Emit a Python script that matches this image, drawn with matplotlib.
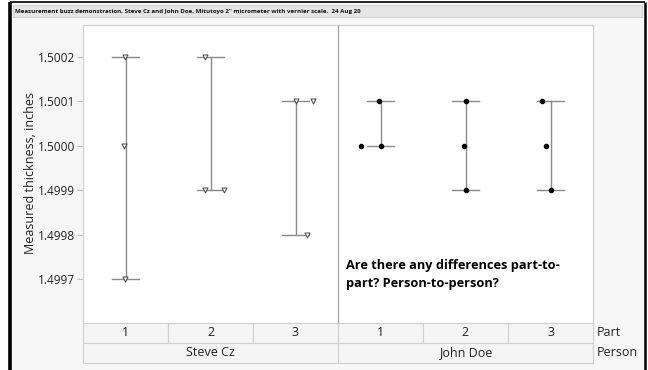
import matplotlib
matplotlib.use("Agg")
import matplotlib.pyplot as plt
from matplotlib.patches import Rectangle
from matplotlib.transforms import blended_transform_factory
import numpy as np

plt.rcParams['font.family'] = ['Open Sans', 'DejaVu Sans']

# ---------------- data ----------------
persons = ["Steve Cz", "John Doe"]
parts = ["1", "2", "3"]
# three repeat readings per (person, part), inches
steve_values = [
    [1.5002, 1.5000, 1.4997],
    [1.5002, 1.4999, 1.4999],
    [1.5001, 1.5001, 1.4998],
]
john_values = [
    [1.5001, 1.5000, 1.5000],
    [1.5001, 1.5000, 1.4999],
    [1.5001, 1.5000, 1.4999],
]
# horizontal jitter of points (fraction of a part cell)
steve_jitter = [
    [-0.01, -0.02, -0.01],
    [-0.07, -0.07, 0.16],
    [0.00, 0.20, 0.14],
]
john_jitter = [
    [-0.02, -0.23, 0.00],
    [0.00, -0.02, 0.01],
    [-0.10, -0.05, 0.00],
]
y_ticks = [1.4997, 1.4998, 1.4999, 1.5000, 1.5001, 1.5002]
title = 'Measurement buzz demonstration, Steve Cz and John Doe, Mitutoyo 2" micrometer with vernier scale,  24 Aug 20'
y_label = "Measured thickness, inches"
note = "Are there any differences part-to-\npart? Person-to-person?"

# ---------------- figure ----------------
W, H = 648, 370
fig = plt.figure(figsize=(W / 100, H / 100), dpi=100, facecolor="white")

# background frame (pixel coordinate overlay)
bg = fig.add_axes([0, 0, 1, 1], zorder=-5)
bg.set_xlim(0, W)
bg.set_ylim(H, 0)
bg.axis("off")
bg.add_patch(Rectangle((10, 1.5), 635, 380, facecolor="#f7f7f7", edgecolor="none"))
bg.plot([10, 10], [1.5, H], color="black", lw=2.6, solid_capstyle="butt")
bg.plot([645, 645], [1.5, H], color="black", lw=1.8, solid_capstyle="butt")
bg.plot([10, 645], [1.5, 1.5], color="black", lw=1.2, solid_capstyle="butt")
bg.add_patch(Rectangle((13, 5), 629, 12, facecolor="#e6e6e6", edgecolor="#d2d2d2", lw=0.8))
bg.text(15, 11.2, title, fontsize=4.45, fontweight="bold", va="center", ha="left",
        color="#111111", family=["Liberation Sans Narrow", "Open Sans", "DejaVu Sans"])

# main axes
left, right, top, bottom = 83, 593, 24.5, 322.5
ax = fig.add_axes([left / W, 1 - bottom / H, (right - left) / W, (bottom - top) / H])
ax.set_facecolor("white")
ax.set_xlim(0.5, 6.5)
ax.set_ylim(1.499603, 1.500272)
for s in ax.spines.values():
    s.set_color("#cfcfcf")
    s.set_linewidth(0.8)
ax.set_xticks([])
ax.set_yticks(y_ticks)
ax.set_yticklabels([f"{v:.4f}" for v in y_ticks], fontsize=8.6, color="#222222")
ax.tick_params(axis="y", length=4, width=0.8, color="#bdbdbd", pad=1.5)
ax.axvline(3.5, color="#a0a0a0", lw=0.9)

fig.text(31 / W, 1 - 173.5 / H, y_label, rotation=90, ha="center", va="center",
         fontsize=9, color="#222222")

cap = 0.153
all_sets = [(steve_values, steve_jitter, "tri"), (john_values, john_jitter, "dot")]
for p_idx, (vals, jit, kind) in enumerate(all_sets):
    for k in range(len(parts)):
        x0 = p_idx * len(parts) + k + 1
        v = np.array(vals[k])
        lo, hi = v.min(), v.max()
        ax.plot([x0, x0], [lo, hi], color="#8a8a8a", lw=1.0, zorder=2)
        ax.plot([x0 - cap, x0 + cap], [hi, hi], color="#8a8a8a", lw=1.0, zorder=2)
        ax.plot([x0 - cap, x0 + cap], [lo, lo], color="#8a8a8a", lw=1.0, zorder=2)
        xs = x0 + np.array(jit[k])
        if kind == "tri":
            ax.scatter(xs, v, marker="v", s=13, facecolors="white", edgecolors="#444444",
                       linewidths=0.7, zorder=3)
        else:
            ax.scatter(xs, v, marker="o", s=9, color="black", zorder=3)

ax.text(3.59, 1.499745, note, fontsize=9.2, fontweight="bold", ha="left", va="top",
        linespacing=1.5, color="black")

# category table below axes
tr = blended_transform_factory(ax.transData, ax.transAxes)
rh = 20 / (bottom - top)
n = len(parts)
for p_idx, person in enumerate(persons):
    for k, part in enumerate(parts):
        x0 = p_idx * n + k + 0.5
        ax.add_patch(Rectangle((x0, -rh), 1, rh, transform=tr, clip_on=False,
                               facecolor="#f5f5f5", edgecolor="#d0d0d0", lw=0.8))
        ax.text(x0 + 0.5, -rh / 2, part, transform=tr, ha="center", va="center",
                fontsize=9, color="#222222")
    xp = p_idx * n + 0.5
    ax.add_patch(Rectangle((xp, -2 * rh), n, rh, transform=tr, clip_on=False,
                           facecolor="#f5f5f5", edgecolor="#d0d0d0", lw=0.8))
    ax.text(xp + n / 2, -1.5 * rh, person, transform=tr, ha="center", va="center",
            fontsize=9, color="#222222")

ax.text(6.55, -rh / 2, "Part", transform=tr, ha="left", va="center", fontsize=9, color="#222222")
ax.text(6.55, -1.5 * rh, "Person", transform=tr, ha="left", va="center", fontsize=9, color="#222222")

fig.savefig("out.png", dpi=100, facecolor="white")
